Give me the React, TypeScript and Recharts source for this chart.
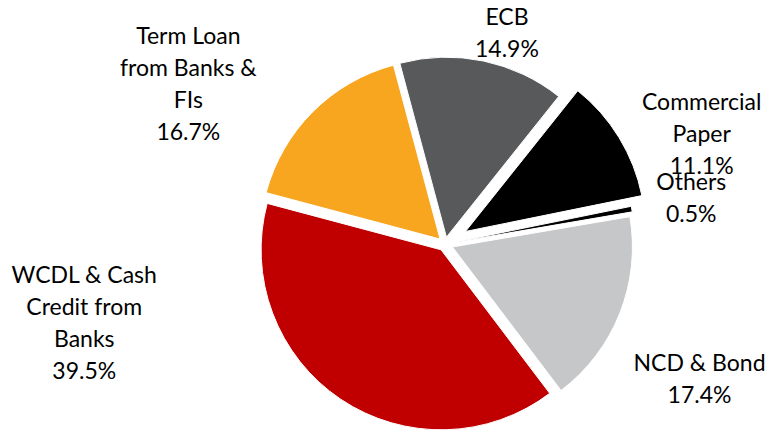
import { PieChart, Pie, Cell, Sector } from "recharts";

// clockwise from the ECB slice at the top
const categories = [
  "ECB",
  "Commercial\nPaper",
  "Others",
  "NCD & Bond",
  "WCDL & Cash\nCredit from\nBanks",
  "Term Loan\nfrom Banks &\nFIs",
];
const shares = [14.9, 11.1, 0.5, 17.4, 39.5, 16.7];
const colors = ["#58595b", "#000000", "#000000", "#c6c7c9", "#c00000", "#f8a61f"];

// how far each slice is pulled out, and where its label sits relative to the radial default
const explode = [7, 24, 10, 8, 7, 7];
const labelNudge: Array<[number, number]> = [
  [17, 4],
  [69, 5],
  [30, -6],
  [50, 54],
  [-238, -104],
  [-101, -5],
];

const data = categories.map((name, i) => ({ name, value: shares[i] }));

const RAD = Math.PI / 180;
const FONT = "Lato, 'Noto Sans', sans-serif";

function ExplodedSector(props: any) {
  const i = props.index ?? 0;
  const d = explode[i] ?? 0;
  const a = -props.midAngle * RAD;
  return <Sector {...props} cx={props.cx + d * Math.cos(a)} cy={props.cy + d * Math.sin(a)} />;
}

function renderLabel(props: any) {
  const { cx, cy, midAngle, outerRadius, index, value } = props;
  const a = -midAngle * RAD;
  const r = outerRadius + 40;
  const [nx, ny] = labelNudge[index];
  const x = cx + r * Math.cos(a) + nx;
  const y = cy + r * Math.sin(a) + ny;
  const lines = [...categories[index].split("\n"), `${value.toFixed(1)}%`];
  const lh = 32;
  const first = y - ((lines.length - 1) * lh) / 2 + 8;
  return (
    <text key={`l-${index}`} x={x} y={first} textAnchor="middle" fill="#000" fontSize={23} fontFamily={FONT}>
      {lines.map((ln, k) => (
        <tspan key={k} x={x} y={first + k * lh}>
          {ln}
        </tspan>
      ))}
    </text>
  );
}

export default function App() {
  return (
    <div style={{ position: "absolute", left: 0, top: 0, width: 770, height: 433, background: "#fff" }}>
      <PieChart width={770} height={433} margin={{ top: 0, right: 0, bottom: 0, left: 0 }}>
        <Pie
          data={data}
          dataKey="value"
          nameKey="name"
          cx={445}
          cy={244}
          outerRadius={180}
          startAngle={105}
          endAngle={-255}
          stroke="#fff"
          strokeWidth={1}
          shape={ExplodedSector}
          label={renderLabel}
          labelLine={false}
          isAnimationActive={false}
        >
          {data.map((_, i) => (
            <Cell key={i} fill={colors[i]} />
          ))}
        </Pie>
      </PieChart>
    </div>
  );
}
